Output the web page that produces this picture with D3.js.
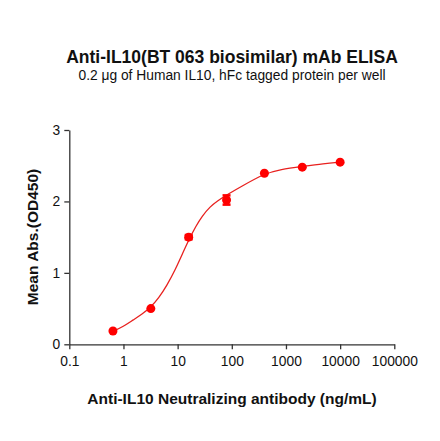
<!DOCTYPE html>
<html><head><meta charset="utf-8">
<script src="https://cdn.jsdelivr.net/npm/d3@7"></script>
<style>body{margin:0;background:#fff}svg{display:block}text{font-family:"Liberation Sans",Arial,sans-serif}</style>
</head><body>
<svg id="c" width="440" height="441"></svg>
<script>
const concentrations = [0.64, 3.2, 16, 80, 400, 2000, 10000];
const meanAbs = [0.186, 0.50, 1.50, 2.02, 2.395, 2.48, 2.55];
const errAbs = [0.01, 0.01, 0.03, 0.065, 0.01, 0.01, 0.01];
const curveX = [0.63, 1.0, 1.5, 2.2, 3.2, 4.5, 6.3, 9, 12.5, 16, 22, 28, 40, 55, 80, 150, 400, 800, 2000, 5000, 10000];
const curveY = [0.18, 0.25, 0.34, 0.42, 0.52, 0.65, 0.82, 1.04, 1.28, 1.46, 1.66, 1.79, 1.93, 2.01, 2.09, 2.21, 2.39, 2.45, 2.49, 2.53, 2.55];
const xTicks = [0.1, 1, 10, 100, 1000, 10000, 100000];
const yTicks = [0, 1, 2, 3];
const title = "Anti-IL10(BT 063 biosimilar) mAb ELISA";
const subtitle = "0.2 \u03bcg of Human IL10, hFc tagged protein per well";
const xLabel = "Anti-IL10 Neutralizing antibody (ng/mL)";
const yLabel = "Mean Abs.(OD450)";

const svg = d3.select("#c");
const x = d3.scaleLog().domain([0.1, 100000]).range([69.3, 394.3]);
const y = d3.scaleLinear().domain([0, 3]).range([344.3, 130]);
const axisColor = "#333";

const xa = svg.append("g").attr("transform", `translate(0,${y(0)})`)
  .call(d3.axisBottom(x).tickValues(xTicks).tickFormat(d => String(d)).tickSize(5).tickSizeOuter(0));
const ya = svg.append("g").attr("transform", `translate(${x(0.1)},0)`)
  .call(d3.axisLeft(y).tickValues(yTicks).tickFormat(d3.format("d")).tickSize(5).tickSizeOuter(0));
[xa, ya].forEach(a => {
  a.attr("font-size", 13.8).attr("font-family", "Liberation Sans, Arial, sans-serif");
  a.select(".domain").attr("stroke", axisColor).attr("stroke-width", 1.3);
  a.selectAll(".tick line").attr("stroke", axisColor).attr("stroke-width", 1.3);
  a.selectAll(".tick text").attr("fill", "#111").attr("font-size", 13.8);
});
xa.selectAll(".tick text").attr("y", 12).attr("dy", "0.71em");
ya.selectAll(".tick text").attr("x", -9);

// fitted curve
const pts = curveX.map((v, i) => [v, curveY[i]]);
svg.append("path").datum(pts)
  .attr("fill", "none").attr("stroke", "#e8211f").attr("stroke-width", 1.3)
  .attr("d", d3.line().x(d => x(d[0])).y(d => y(d[1])).curve(d3.curveBasis));

// error bars
const data = concentrations.map((c, i) => ({c, m: meanAbs[i], e: errAbs[i]}));
const eb = svg.append("g").attr("stroke", "#ff0000").attr("stroke-width", 2.5);
data.filter(d => d.e > 0.02).forEach(d => {
  eb.append("line").attr("x1", x(d.c)).attr("x2", x(d.c)).attr("y1", y(d.m - d.e)).attr("y2", y(d.m + d.e));
  [d.m - d.e, d.m + d.e].forEach(v => eb.append("line").attr("x1", x(d.c) - 4).attr("x2", x(d.c) + 4).attr("y1", y(v)).attr("y2", y(v)));
});
svg.append("g").selectAll("circle").data(data).join("circle")
  .attr("cx", d => x(d.c)).attr("cy", d => y(d.m)).attr("r", 4.5).attr("fill", "#ff0000");

// texts
svg.append("text").attr("x", 232).attr("y", 63).attr("text-anchor", "middle")
  .attr("font-size", 17.5).attr("font-weight", "bold").attr("fill", "#111").text(title);
svg.append("text").attr("x", 232).attr("y", 80).attr("text-anchor", "middle")
  .attr("font-size", 13.8).attr("fill", "#111").text(subtitle);
svg.append("text").attr("x", 232).attr("y", 404).attr("text-anchor", "middle")
  .attr("font-size", 15.5).attr("font-weight", "bold").attr("fill", "#111").text(xLabel);
svg.append("text").attr("transform", "translate(38,237) rotate(-90)").attr("text-anchor", "middle")
  .attr("font-size", 15.5).attr("font-weight", "bold").attr("fill", "#111").text(yLabel);
</script>
</body></html>
